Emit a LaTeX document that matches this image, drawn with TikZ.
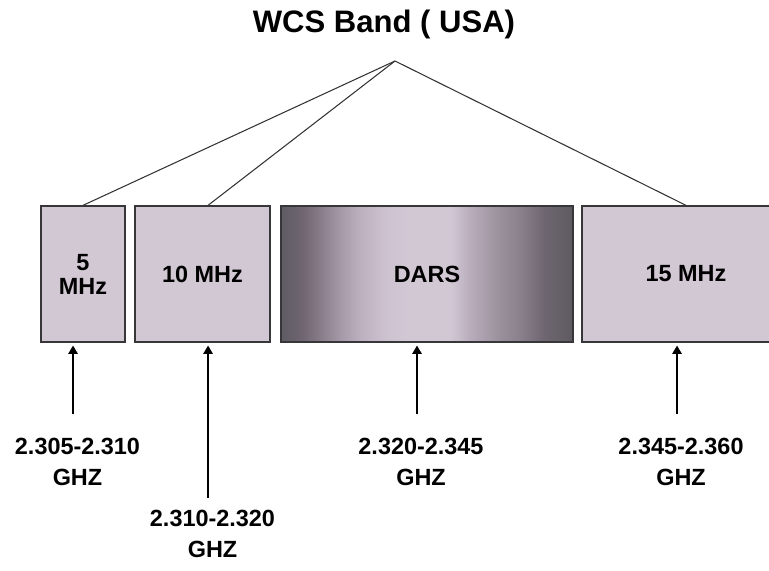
\documentclass[tikz,border=0pt]{standalone}
\usepackage{fontspec}
\setmainfont{Liberation Sans}
\usetikzlibrary{arrows.meta, positioning, calc}

\definecolor{bandfill}{RGB}{210,200,212}
\definecolor{darsa}{RGB}{95,92,100}
\definecolor{darsb}{RGB}{110,101,112}
\definecolor{darsc}{RGB}{133,122,134}
\definecolor{darsd}{RGB}{164,152,166}
\definecolor{darse}{RGB}{188,176,190}
\definecolor{darsf}{RGB}{205,194,207}
\definecolor{darsg}{RGB}{184,172,186}
\definecolor{darsh}{RGB}{154,144,156}
\definecolor{darsi}{RGB}{138,128,140}
\definecolor{darsj}{RGB}{110,102,112}
\definecolor{darsk}{RGB}{94,90,98}
\definecolor{boxline}{RGB}{55,55,58}
\pgfdeclarehorizontalshading{darsshade}{100bp}{color(0bp)=(darsa); color(25bp)=(darsa); color(28.5bp)=(darsb); color(31.5bp)=(darsc); color(35bp)=(darsd); color(38.5bp)=(darse); color(43bp)=(darsf); color(46.5bp)=(bandfill); color(54bp)=(bandfill); color(57.5bp)=(darsg); color(62.5bp)=(darsh); color(66bp)=(darsi); color(70bp)=(darsj); color(75bp)=(darsk); color(100bp)=(darsk)}

\begin{document}
\begin{tikzpicture}[
      x=0.03cm, y=-0.03cm,
      band/.style={rectangle, draw=boxline, line width=1.1pt, fill=bandfill, minimum height=4.08cm, align=center, inner sep=0pt, font=\fontsize{20}{20.5}\selectfont\bfseries},
      dars/.style={band, shading=darsshade},
      freq/.style={align=center, inner sep=0pt, font=\fontsize{20}{26.5}\selectfont\bfseries},
      title/.style={inner sep=0pt, font=\fontsize{26.5}{30}\selectfont\bfseries},
      link/.style={line width=0.9pt, draw=black!80},
      arrow/.style={-{Triangle[width=8pt,length=7pt]}, line width=1pt, shorten >=2.5pt}
    ]
    \clip (0,0) rectangle (769,571);

    \node[title, anchor=base] (wcs) at (384,33) {WCS Band ( USA)};
    \coordinate (top) at (395,61);

    \node[band, minimum width=2.52cm] (b1) at (83,274) {5\\MHz};
    \node[band, minimum width=4.05cm] (b2) at (202.5,274) {10 MHz};
    \node[dars, minimum width=8.76cm] (b3) at (427,274) {DARS};
    \node[band, minimum width=6.24cm] (b4) at (686,274) {15 MHz};

    \node[freq] (f1) at (77.5,461.5) {2.305-2.310\\GHZ};
    \node[freq] (f2) at (212.5,533.5) {2.310-2.320\\GHZ};
    \node[freq] (f3) at (421,461.5) {2.320-2.345\\GHZ};
    \node[freq] (f4) at (681,461.5) {2.345-2.360\\GHZ};

    \draw[link] (top) -- (b1.north);
    \draw[link] (top) -- ([xshift=4.7pt]b2.north);
    \draw[link] (top) -- (b4.north);

    \draw[arrow, shorten <=19.6pt] ([xshift=-3.8pt]f1.north) -- ([xshift=-3.8pt]f1.north |- b1.south);
    \draw[arrow, shorten <=10pt] ([xshift=-3.8pt]f2.north) -- ([xshift=-3.8pt]f2.north |- b2.south);
    \draw[arrow, shorten <=19.6pt] ([xshift=-3.4pt]f3.north) -- ([xshift=-3.4pt]f3.north |- b3.south);
    \draw[arrow, shorten <=19.6pt] ([xshift=-3.4pt]f4.north) -- ([xshift=-3.4pt]f4.north |- b4.south);
  \end{tikzpicture}
\end{document}
